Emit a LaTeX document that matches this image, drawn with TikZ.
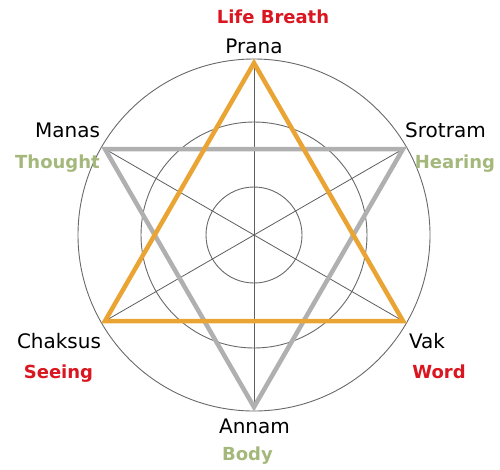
\documentclass[tikz,border=0pt]{standalone}
\usepackage{fontspec}
\setmainfont{DejaVu Sans}
\definecolor{lred}{RGB}{218,22,32}
\definecolor{lgreen}{RGB}{164,184,124}
\definecolor{torange}{RGB}{233,164,52}
\definecolor{tgray}{RGB}{176,176,176}
\definecolor{cgray}{RGB}{105,105,105}
\begin{document}
\begin{tikzpicture}[x=1pt,y=-1pt,
  ring/.style={draw=cgray,line width=0.9pt},
  spoke/.style={draw=cgray!90!black,line width=0.8pt},
  tri/.style={line width=4.5pt,line join=miter,miter limit=10},
  lblname/.style={anchor=base,font=\fontsize{20}{22}\selectfont,text=black,inner sep=0pt},
  lblmean/.style={anchor=base,font=\fontsize{18}{20}\selectfont\bfseries,inner sep=0pt}]
\useasboundingbox (0,0) rectangle (500,469);
\coordinate (O) at (254,235);
\draw[ring] (O) circle[radius=176];
\draw[ring] (O) circle[radius=113];
\draw[ring] (O) circle[radius=48];
\coordinate (P) at (254,63);
\coordinate (A) at (254,407);
\coordinate (M) at (105,149);
\coordinate (S) at (403,149);
\coordinate (C) at (105,321);
\coordinate (V) at (403,321);
\draw[spoke] (P) -- (A);
\draw[spoke] (M) -- (V);
\draw[spoke] (S) -- (C);
\draw[tri,draw=tgray] (M) -- (S) -- (A) -- cycle;
\draw[tri,draw=torange] (P) -- (V) -- (C) -- cycle;
\node[lblmean,text=lred] (lb) at (273,23) {Life Breath};
\node[lblname] (prana) at (254,53) {Prana};
\node[lblname] (manas) at (67.5,137) {Manas};
\node[lblmean,text=lgreen] (thought) at (57.5,168) {Thought};
\node[lblname] (srotram) at (445.5,137) {Srotram};
\node[lblmean,text=lgreen] (hearing) at (455,168) {Hearing};
\node[lblname] (chaksus) at (59,348) {Chaksus};
\node[lblmean,text=lred] (seeing) at (58.5,378) {Seeing};
\node[lblname] (vak) at (427,348) {Vak};
\node[lblmean,text=lred] (word) at (439,378) {Word};
\node[lblname] (annam) at (254.5,433) {Annam};
\node[lblmean,text=lgreen] (body) at (247.5,460) {Body};
\end{tikzpicture}
\end{document}
